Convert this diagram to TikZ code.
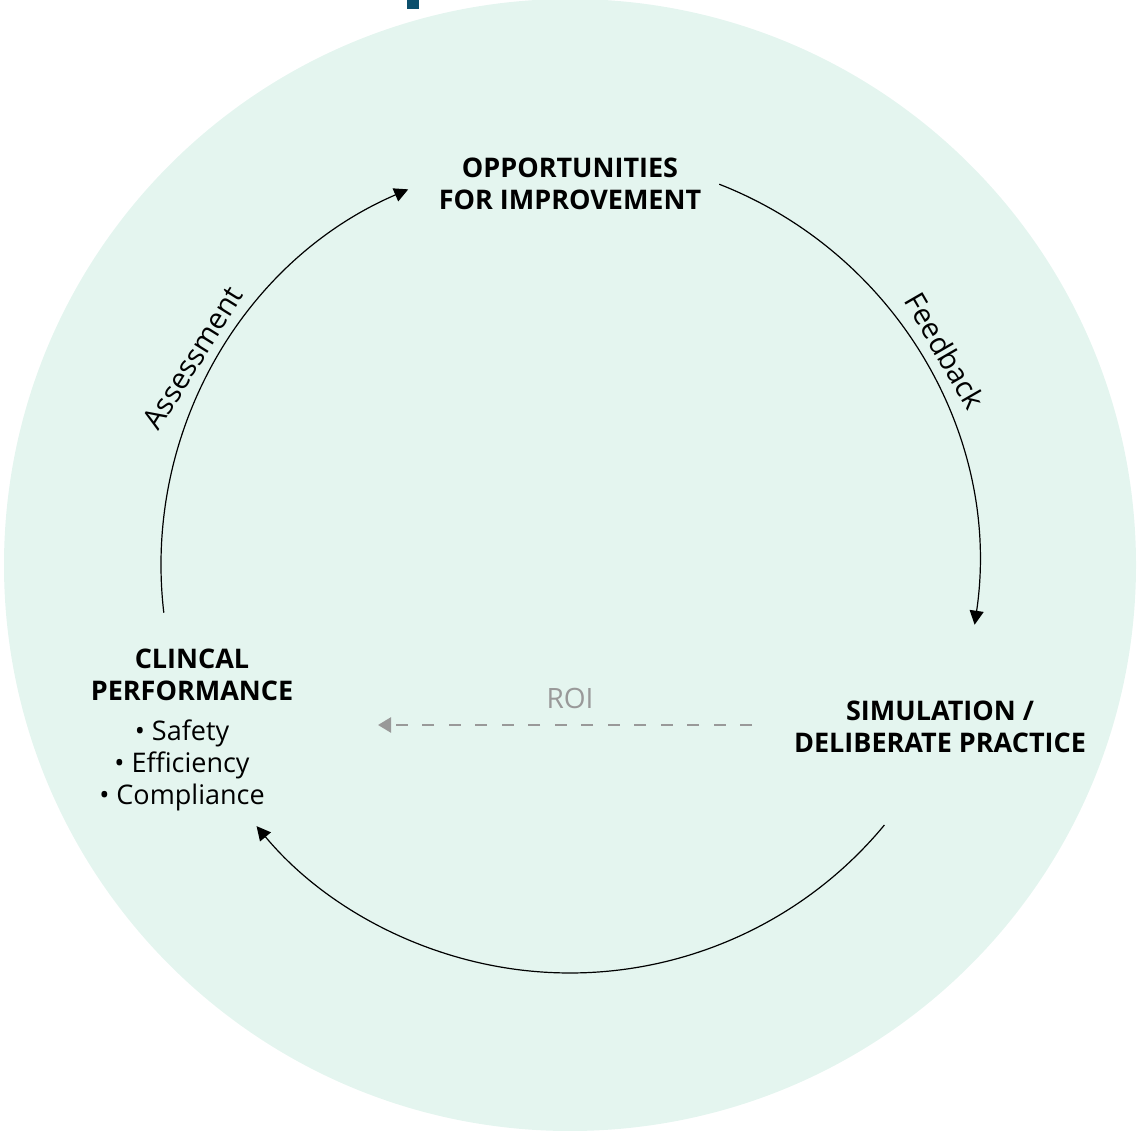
\documentclass[tikz,border=0pt]{standalone}
\usepackage{fontspec}
\setmainfont{Open Sans}
\usetikzlibrary{arrows.meta}
\definecolor{mint}{HTML}{E4F5EF}
\definecolor{topblue}{HTML}{0B4F6C}
\definecolor{roigray}{HTML}{999999}
\tikzset{
  cyc/.style={draw=black, line width=1.2pt, -{Triangle[length=14pt,width=14pt]}},
  roiarrow/.style={draw=roigray, line width=2.5pt, dash pattern=on 12pt off 14.5pt, -{Triangle[length=13pt,width=15pt]}},
  head/.style={font=\bfseries\fontsize{27}{32}\selectfont, align=center, inner sep=0pt},
  lbl/.style={font=\fontsize{28}{32}\selectfont, inner sep=0pt},
  bul/.style={font=\fontsize{27}{32}\selectfont, align=center, inner sep=0pt},
}
\begin{document}
\begin{tikzpicture}[x=1pt,y=1pt]
\useasboundingbox (0,0) rectangle (1137,1130);
\fill[mint] (570,565) circle[radius=566];
\fill[topblue] (407,1121) rectangle (419,1131);
\coordinate (c) at (570,565);
\node[head] (opp) at (570,946) {OPPORTUNITIES\\FOR IMPROVEMENT};
\node[head] (sim) at (940,403) {SIMULATION /\\DELIBERATE PRACTICE};
\node[head] (clin) at (192,455) {CLINCAL\\PERFORMANCE};
\node[bul] (clinb) at (182,365) {• Safety\\• Efficiency\\• Compliance};
\node[lbl, text=roigray] (roi) at (570,432) {ROI};
\node[lbl, font=\fontsize{29}{32}\selectfont, rotate=58] (assess) at (193,772) {Assessment};
\node[lbl, font=\fontsize{29}{32}\selectfont, rotate=-60] (feed) at (945,779) {Feedback};
\coordinate (a1) at ([shift={(186.7:409)}]c);
\coordinate (a2) at ([shift={(68.6:409)}]c);
\coordinate (a3) at ([shift={(-39.6:408)}]c);
\draw[cyc] (a1) arc[start angle=186.7, end angle=113.3, radius=409];
\draw[cyc] (a2) arc[start angle=68.6, end angle=-8.4, radius=409];
\draw[cyc] (a3) arc[start angle=-39.6, end angle=-140.2, radius=408];
\coordinate (r1) at (752,405);
\coordinate (r2) at (378,405);
\draw[roiarrow] (r1) -- (r2);
\end{tikzpicture}
\end{document}
